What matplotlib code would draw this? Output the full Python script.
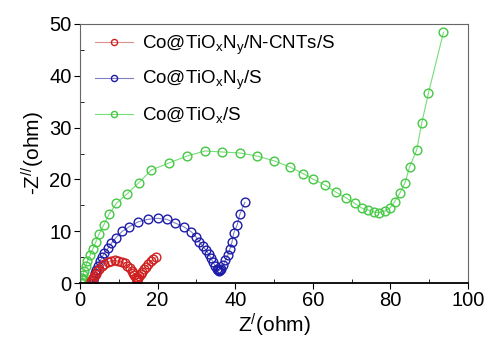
import numpy as np
import matplotlib
matplotlib.use("Agg")
import matplotlib.pyplot as plt
from matplotlib.ticker import MultipleLocator

plt.rcParams['font.family'] = ['Liberation Sans', 'DejaVu Sans']
plt.rcParams['mathtext.fontset'] = 'custom'
plt.rcParams['mathtext.rm'] = 'Liberation Sans'
plt.rcParams['mathtext.it'] = 'Liberation Sans:italic'

# Co@TiOxNy/N-CNTs/S
red_x = [2.7, 2.9, 3.1, 3.4, 3.7, 4.0, 4.5, 5.0, 5.6, 6.3, 7.1, 8.0, 8.9, 9.8,
         10.7, 11.5, 12.2, 12.8, 13.3, 13.7, 14.0, 14.3, 14.5, 14.6, 14.7, 14.8,
         15.0, 15.3, 15.6, 16.0, 16.5, 17.0, 17.6, 18.2, 18.9, 19.6]
red_y = [0.1, 0.4, 0.7, 1.0, 1.4, 1.8, 2.3, 2.8, 3.3, 3.7, 4.1, 4.3, 4.4, 4.3,
         4.1, 3.8, 3.4, 2.9, 2.4, 2.0, 1.6, 1.2, 0.9, 0.7, 0.6, 0.7,
         0.9, 1.3, 1.7, 2.2, 2.7, 3.2, 3.7, 4.2, 4.6, 5.0]

# Co@TiOxNy/S
blue_x = [3.3, 3.4, 3.6, 3.9, 4.2, 4.6, 5.1, 5.7, 6.3, 7.2, 8.1, 9.3, 10.9, 12.7,
          14.9, 17.4, 20.0, 22.4, 24.5, 26.7, 28.7, 29.9, 30.7, 31.6, 32.4, 33.2,
          33.8, 34.3, 34.9, 35.3, 35.6, 35.8, 36.0, 36.3, 36.9, 37.5, 38.1, 38.6,
          39.2, 39.6, 40.5, 41.2, 42.5]
blue_y = [0.1, 0.6, 1.2, 1.9, 2.6, 3.4, 4.2, 5.0, 5.9, 6.7, 7.7, 8.8, 10.0, 10.9,
          11.8, 12.3, 12.5, 12.3, 11.6, 10.9, 9.9, 8.9, 8.0, 7.2, 6.4, 5.6,
          4.8, 4.0, 3.3, 2.8, 2.5, 2.4, 2.5, 2.8, 3.5, 4.4, 5.4, 6.5,
          8.0, 9.6, 11.2, 13.3, 15.6]

# Co@TiOx/S
green_x = [0.2, 0.3, 0.4, 0.5, 0.7, 1.0, 1.5, 1.9, 2.6, 3.3, 4.1, 4.9, 6.1, 7.5,
           9.4, 12.1, 15.2, 18.3, 23.0, 27.5, 32.2, 36.6, 41.3, 45.7, 50.0, 54.1,
           57.6, 60.0, 63.2, 66.1, 68.5, 70.8, 72.6, 74.3, 75.8, 77.1, 78.6, 79.9,
           81.1, 82.4, 83.8, 85.0, 86.8, 88.1, 89.8, 93.7]
green_y = [0.1, 0.3, 0.6, 0.9, 1.5, 2.3, 3.3, 4.3, 5.4, 6.6, 8.0, 9.5, 11.2, 13.3,
           15.4, 17.2, 19.4, 21.8, 23.2, 24.5, 25.5, 25.3, 25.1, 24.5, 23.6, 22.4,
           21.1, 20.1, 18.9, 17.5, 16.5, 15.4, 14.5, 14.1, 13.7, 13.6, 13.9, 14.5,
           15.7, 17.3, 19.4, 22.5, 25.7, 30.9, 36.6, 48.4]

labels = ['Co@TiO$_\\mathrm{x}$N$_\\mathrm{y}$/N-CNTs/S',
          'Co@TiO$_\\mathrm{x}$N$_\\mathrm{y}$/S',
          'Co@TiO$_\\mathrm{x}$/S']

fig = plt.figure(figsize=(4.91, 3.47), dpi=100)
ax = fig.add_axes([0.163, 0.184, 0.790, 0.747])

g, = ax.plot(green_x, green_y, '-o', color='#77dd77', lw=0.8, ms=6.3,
             mfc='none', mec='#44c844', mew=1.0, label=labels[2])
b, = ax.plot(blue_x, blue_y, '-o', color='#8080c8', lw=0.8, ms=6.3,
             mfc='none', mec='#1c1ca8', mew=1.0, label=labels[1])
r, = ax.plot(red_x, red_y, '-o', color='#dd9090', lw=0.8, ms=6.3,
             mfc='none', mec='#d02020', mew=1.0, label=labels[0])

ax.set_xlim(0, 100)
ax.set_ylim(0, 50)
ax.xaxis.set_major_locator(MultipleLocator(20))
ax.xaxis.set_minor_locator(MultipleLocator(10))
ax.yaxis.set_major_locator(MultipleLocator(10))
ax.yaxis.set_minor_locator(MultipleLocator(5))
ax.tick_params(which='major', direction='out', length=4, labelsize=14.5, pad=2)
ax.tick_params(which='minor', direction='in', length=3)

for s in ['top', 'right', 'left']:
    ax.spines[s].set_color('#666666')
    ax.spines[s].set_linewidth(0.8)
ax.spines['bottom'].set_linewidth(1.3)

ax.set_xlabel('Z$^{\\mathrm{/}}$(ohm)', fontsize=15, labelpad=1)
ax.set_ylabel('-Z$^{\\mathrm{//}}$(ohm)', fontsize=15, labelpad=2)

ax.legend(handles=[r, b, g], loc='upper left', bbox_to_anchor=(0.015, 1.0),
          frameon=False, fontsize=13.5, markerscale=0.7, handlelength=2.0,
          labelspacing=0.68, borderaxespad=0.1, handletextpad=0.5)

fig.savefig('out.png', dpi=100)
